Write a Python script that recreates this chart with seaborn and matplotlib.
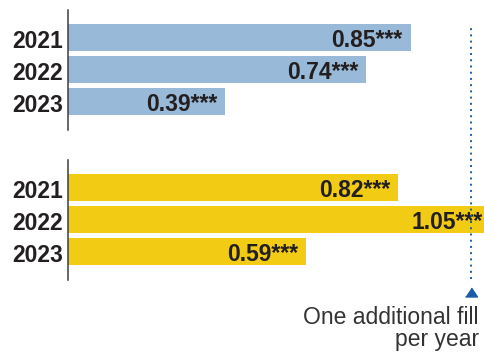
import matplotlib
matplotlib.use("Agg")
import matplotlib.pyplot as plt
import matplotlib.transforms as mtransforms
from matplotlib.lines import Line2D
import seaborn as sns
import pandas as pd

# ---- data ----
years = ["2021", "2022", "2023"]
values_blue = [0.85, 0.74, 0.39]
values_yellow = [0.82, 1.05, 0.59]
stars = ["***", "***", "***"]
reference_value = 1.0
reference_label = "One additional fill\nper year"

BLUE = "#98b9d7"
YELLOW = "#f2cb14"
TEXT = "#231f20"
LINE_BLUE = "#1b5ca8"

sns.set_style("white")
plt.rcParams["font.family"] = ["Liberation Sans", "DejaVu Sans"]

W, H = 485, 354
fig = plt.figure(figsize=(W / 100, H / 100), dpi=100)

left = 68 / W
width = 417 / W
ax_top = fig.add_axes([left, (H - 129.5) / H, width, 120 / H])
ax_bot = fig.add_axes([left, (H - 279.5) / H, width, 120 / H])

xmax = 417 / 403.0

for ax, vals, col in [(ax_top, values_blue, BLUE), (ax_bot, values_yellow, YELLOW)]:
    df = pd.DataFrame({"year": years, "value": vals})
    sns.barplot(data=df, x="value", y="year", orient="h", color=col,
                saturation=1, width=0.84, linewidth=0, ax=ax, order=years)
    ax.set_xlim(0, xmax)
    ax.set_ylim(2.875, -0.875)
    ax.set_xlabel("")
    ax.set_ylabel("")
    ax.set_xticks([])
    for s in ["top", "right", "bottom"]:
        ax.spines[s].set_visible(False)
    ax.spines["left"].set_color("#3d3d3d")
    ax.spines["left"].set_linewidth(1.1)
    ax.tick_params(axis="y", length=0, pad=3.6, labelsize=16.5, labelcolor=TEXT)
    for lab in ax.get_yticklabels():
        lab.set_fontweight("bold")
    shift = mtransforms.ScaledTranslation(0, -0.012, fig.dpi_scale_trans)
    for tick in ax.yaxis.get_major_ticks():
        tick.label1.set_transform(tick.label1.get_transform() + shift)
    ax.set_facecolor("none")
    for i, (v, st) in enumerate(zip(vals, stars)):
        ax.annotate(f"{v:.2f}{st}", xy=(v, i), xytext=(-5.8, -6.6),
                    textcoords="offset points", ha="right", va="baseline",
                    fontsize=16.5, fontweight="bold", color=TEXT,
                    annotation_clip=False)

# reference dotted line spanning both panels
trans = mtransforms.blended_transform_factory(ax_bot.transData, fig.transFigure)
fig.add_artist(Line2D([reference_value, reference_value],
                      [(H - 279) / H, (H - 24) / H], transform=trans,
                      color=LINE_BLUE, linewidth=1.4, linestyle=(0, (1, 2.2))))
fig.add_artist(Line2D([reference_value], [(H - 292) / H], transform=trans,
                      marker=[(-1, -0.75), (1, -0.75), (0, 0.75)],
                      markersize=8.6, color=LINE_BLUE, linestyle="none"))

fig.text(479 / W, (H - 346) / H, reference_label, ha="right", va="baseline",
         fontsize=16.5, color="#333333", linespacing=0.95)

fig.savefig("out.png", dpi=100)
